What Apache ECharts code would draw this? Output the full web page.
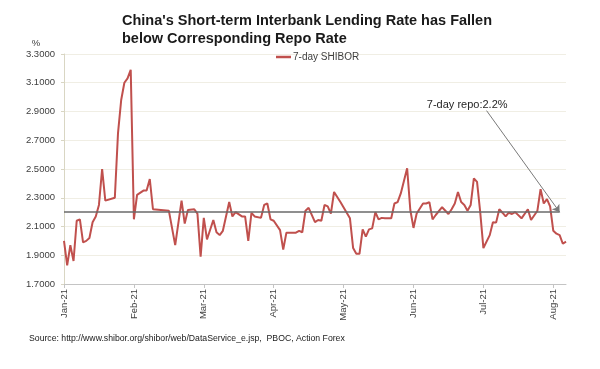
<!DOCTYPE html>
<html><head><meta charset="utf-8">
<script src="https://cdn.jsdelivr.net/npm/echarts@6/dist/echarts.min.js"></script>
<style>html,body{margin:0;padding:0;background:#fff}#c{width:600px;height:369px}</style>
</head><body><div id="c"></div>
<script>
// ---- data ----
const titleText = "China's Short-term Interbank Lending Rate has Fallen\nbelow Corresponding Repo Rate";
const sourceText = "Source: http://www.shibor.org/shibor/web/DataService_e.jsp,  PBOC, Action Forex";
const seriesName = "7-day SHIBOR";
const monthLabels = ["Jan-21","Feb-21","Mar-21","Apr-21","May-21","Jun-21","Jul-21","Aug-21"];
const daysPerLabel = 22;
const lastDay = 158;
const yTicks = [1.7,1.9,2.1,2.3,2.5,2.7,2.9,3.1,3.3];
// trading-day index and 7-day SHIBOR (%)
const dayIndex = [0,1,2,3,4,5,6,7,8,9,10,11,12,13,16,17,18,19,20,21,22,23,25,26,27,28,33,35,37,38,39,41,42,43,44,45,47,48,49,50,52,53,54,56,57,58,59,60,62,63,64,65,66,68,69,70,73,74,75,76,77,79,80,81,82,83,84,85,87,90,91,92,93,94,95,96,97,98,99,100,101,103,104,105,106,108,109,110,111,113,114,115,116,117,119,121,122,123,124,125,126,127,128,129,130,131,132,134,135,136,137,138,139,140,141,142,144,146,147,149,150,151,152,153,154,155,156,157,158];
const shibor   = [2.00,1.83,1.97,1.86,2.14,2.15,1.99,2.00,2.02,2.13,2.17,2.25,2.50,2.28,2.30,2.75,2.98,3.10,3.13,3.19,2.15,2.32,2.35,2.35,2.43,2.22,2.21,1.97,2.28,2.12,2.215,2.22,2.19,1.89,2.16,2.01,2.145,2.06,2.04,2.07,2.27,2.17,2.20,2.17,2.17,2.00,2.195,2.17,2.16,2.25,2.26,2.15,2.14,2.075,1.94,2.057,2.057,2.07,2.06,2.21,2.23,2.13,2.145,2.14,2.25,2.24,2.19,2.34,2.27,2.157,1.95,1.91,1.91,2.08,2.03,2.08,2.087,2.20,2.15,2.16,2.157,2.157,2.26,2.27,2.33,2.505,2.215,2.09,2.19,2.26,2.26,2.27,2.15,2.18,2.234,2.187,2.22,2.26,2.34,2.27,2.25,2.21,2.25,2.435,2.41,2.20,1.95,2.04,2.13,2.127,2.22,2.196,2.17,2.196,2.187,2.20,2.157,2.22,2.145,2.21,2.36,2.26,2.29,2.24,2.07,2.05,2.04,1.98,1.995];
const repoRate = 2.2;
const repoLabel = "7-day repo:2.2%";
const repoEndDay = 156;
const arrowFrom = [133, 2.906];
const labelAt = [126.9, 2.945];

// ---- chart ----
const labelTicks = monthLabels.map((m, i) => i * daysPerLabel);
const font = "Liberation Sans";
const chart = echarts.init(document.getElementById('c'), null, {renderer: 'canvas'});
chart.setOption({
  animation: false,
  backgroundColor: '#ffffff',
  textStyle: {fontFamily: font},
  title: [
    {text: titleText, left: 122, top: 12, padding: 0,
     textStyle: {fontFamily: font, fontSize: 14.5, fontWeight: 'bold', color: '#1a1a1a', lineHeight: 18}},
    {text: sourceText, left: 29, top: 334, padding: 0,
     textStyle: {fontFamily: font, fontSize: 8.7, fontWeight: 'normal', color: '#1a1a1a'}}
  ],
  legend: {
    data: [{name: seriesName, icon: 'rect'}], left: 276, top: 52, padding: 0, itemWidth: 15, itemHeight: 2.5,
    itemGap: 10, itemStyle: {color: '#c0504d', borderWidth: 0},
    textStyle: {fontFamily: font, fontSize: 10, color: '#404040', padding: [0, 0, 0, -3]}
  },
  grid: {left: 64, right: 34, top: 54, bottom: 85, containLabel: false},
  xAxis: {
    type: 'value', min: 0, max: lastDay,
    axisLine: {show: true, lineStyle: {color: '#c4c4c4', width: 1}},
    axisTick: {show: true, length: 4, customValues: labelTicks, lineStyle: {color: '#c4c4c4'}},
    axisLabel: {customValues: labelTicks, rotate: 90, margin: 5, fontSize: 9.5, color: '#404040', fontFamily: font,
      formatter: v => monthLabels[Math.round(v / daysPerLabel)] || ''},
    splitLine: {show: false}
  },
  yAxis: {
    type: 'value', min: yTicks[0], max: yTicks[yTicks.length - 1],
    name: '%', nameLocation: 'end', nameGap: 6,
    nameTextStyle: {fontSize: 9.5, color: '#404040', fontFamily: font, align: 'center', padding: [0, 56, 0, 0]},
    axisLine: {show: true, lineStyle: {color: '#d9d6c3', width: 1}},
    axisTick: {show: true, inside: false, length: 3, customValues: yTicks, lineStyle: {color: '#d9d6c3'}},
    axisLabel: {customValues: yTicks, margin: 9, fontSize: 9.5, color: '#404040', fontFamily: font,
      formatter: v => v.toFixed(4)},
    splitLine: {show: true, lineStyle: {color: '#f0eee4', width: 1}}
  },
  series: [{
    name: seriesName, type: 'line', showSymbol: false, symbol: 'none',
    data: dayIndex.map((d, i) => [d, shibor[i]]),
    lineStyle: {color: '#c0504d', width: 2},
    itemStyle: {color: '#c0504d'},
    z: 3,
    markLine: {
      silent: true, animation: false, symbolSize: 7,
      label: {show: false},
      data: [
        [{coord: [0, repoRate], symbol: 'none', lineStyle: {color: '#6a6a6a', width: 1.5, type: 'solid'}},
         {coord: [repoEndDay, repoRate], symbol: 'none'}],
        [{coord: arrowFrom, symbol: 'none', lineStyle: {color: '#7a7a7a', width: 1, type: 'solid'}},
         {coord: [repoEndDay, repoRate], symbol: 'arrow'}]
      ]
    },
    markPoint: {
      silent: true, symbol: 'circle', symbolSize: 0,
      label: {show: true, position: 'inside', formatter: repoLabel, fontSize: 11, color: '#262626', fontFamily: font},
      data: [{coord: labelAt}]
    }
  }]
});
</script>
</body></html>
